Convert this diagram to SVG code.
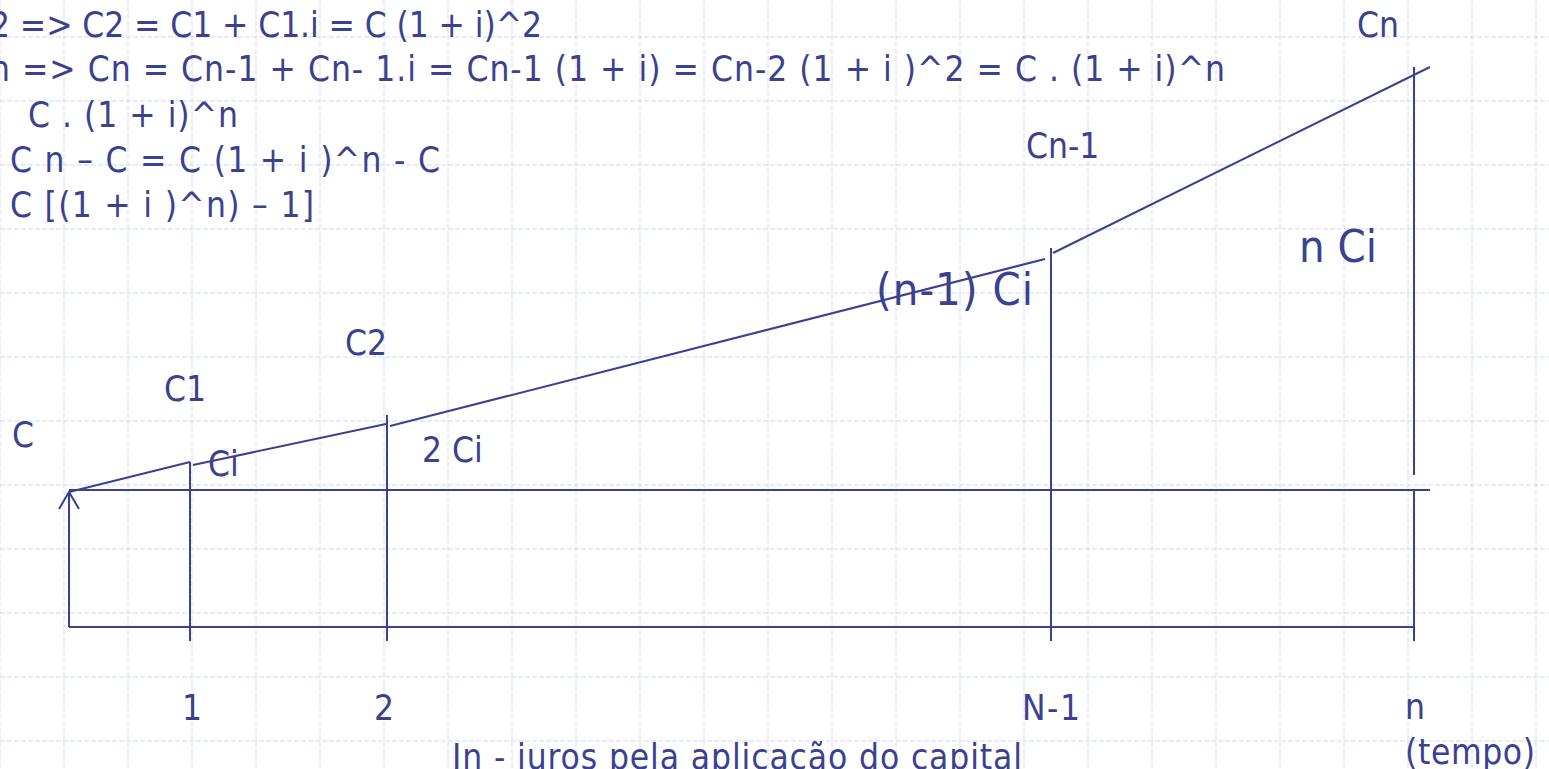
<svg xmlns="http://www.w3.org/2000/svg" width="1549" height="769" viewBox="0 0 1549 769">
<defs>
<style>
.grid line{stroke:#cdd9fa;stroke-width:1;stroke-dasharray:5 2}
.t{font-family:"DejaVu Sans Condensed","DejaVu Sans",sans-serif;font-stretch:condensed;font-size:35px;fill:#3a4290}
.big{font-size:45px}
.ln{stroke:#3a4290;stroke-width:2;fill:none}
</style>
</defs>
<rect width="1549" height="769" fill="#ffffff"/>
<g class="grid">
<line x1="0" y1="0" x2="0" y2="769"/><line x1="64" y1="0" x2="64" y2="769"/><line x1="128" y1="0" x2="128" y2="769"/><line x1="192" y1="0" x2="192" y2="769"/><line x1="256" y1="0" x2="256" y2="769"/><line x1="320" y1="0" x2="320" y2="769"/><line x1="384" y1="0" x2="384" y2="769"/><line x1="448" y1="0" x2="448" y2="769"/><line x1="512" y1="0" x2="512" y2="769"/><line x1="576" y1="0" x2="576" y2="769"/><line x1="640" y1="0" x2="640" y2="769"/><line x1="704" y1="0" x2="704" y2="769"/><line x1="768" y1="0" x2="768" y2="769"/><line x1="832" y1="0" x2="832" y2="769"/><line x1="896" y1="0" x2="896" y2="769"/><line x1="960" y1="0" x2="960" y2="769"/><line x1="1024" y1="0" x2="1024" y2="769"/><line x1="1088" y1="0" x2="1088" y2="769"/><line x1="1152" y1="0" x2="1152" y2="769"/><line x1="1216" y1="0" x2="1216" y2="769"/><line x1="1280" y1="0" x2="1280" y2="769"/><line x1="1344" y1="0" x2="1344" y2="769"/><line x1="1408" y1="0" x2="1408" y2="769"/><line x1="1472" y1="0" x2="1472" y2="769"/><line x1="1536" y1="0" x2="1536" y2="769"/>
<line x1="0" y1="37" x2="1549" y2="37"/><line x1="0" y1="101" x2="1549" y2="101"/><line x1="0" y1="165" x2="1549" y2="165"/><line x1="0" y1="229" x2="1549" y2="229"/><line x1="0" y1="293" x2="1549" y2="293"/><line x1="0" y1="357" x2="1549" y2="357"/><line x1="0" y1="421" x2="1549" y2="421"/><line x1="0" y1="485" x2="1549" y2="485"/><line x1="0" y1="549" x2="1549" y2="549"/><line x1="0" y1="613" x2="1549" y2="613"/><line x1="0" y1="677" x2="1549" y2="677"/><line x1="0" y1="741" x2="1549" y2="741"/>
</g>
<g id="formulas">
<text class="t" x="-10" y="37" textLength="552">2 =&gt; C2 = C1 + C1.i = C (1 + i)^2</text>
<text class="t" x="-10" y="81" textLength="1235">n =&gt; Cn = Cn-1 + Cn- 1.i = Cn-1 (1 + i) = Cn-2 (1 + i )^2 = C . (1 + i)^n</text>
<text class="t" x="28" y="127" textLength="210">C . (1 + i)^n</text>
<text class="t" x="10" y="172" textLength="430">C n – C = C (1 + i )^n - C</text>
<text class="t" x="10" y="217" textLength="304">C [(1 + i )^n) – 1]</text>
</g>
<g id="connectors">
<polyline class="ln" points="69,627 1414,627"/>
<polyline class="ln" points="69,627 69,492"/>
<polyline class="ln" points="59,509 69,492 79,509"/>
<polyline class="ln" points="69,490 1430,490"/>
<polyline class="ln" points="190,462 190,641"/>
<polyline class="ln" points="387,415 387,641"/>
<polyline class="ln" points="1051,248 1051,641"/>
<polyline class="ln" points="1414,67 1414,475"/>
<polyline class="ln" points="1414,490 1414,641"/>
<polyline class="ln" points="69,492 190,462"/>
<polyline class="ln" points="193,465 386,424"/>
<polyline class="ln" points="390,426 1045,259"/>
<polyline class="ln" points="1053,253 1430,67"/>
</g>
<g id="labels">
<text class="t" x="12" y="447">C</text>
<text class="t" x="164" y="401">C1</text>
<text class="t" x="345" y="355">C2</text>
<text class="t" x="208" y="476">Ci</text>
<text class="t" x="422" y="462">2 Ci</text>
<text class="t" x="1026" y="158">Cn-1</text>
<text class="t" x="1357" y="37">Cn</text>
<text class="t big" x="876" y="305" textLength="157">(n-1) Ci</text>
<text class="t big" x="1299" y="262" textLength="78">n Ci</text>
<text class="t" x="182" y="720">1</text>
<text class="t" x="374" y="720">2</text>
<text class="t" x="1022" y="720" textLength="58">N-1</text>
<text class="t" x="1405" y="719">n</text>
<text class="t" x="1405" y="764" textLength="130">(tempo)</text>
<text class="t" x="452" y="769" textLength="570">Jn - juros pela aplicação do capital</text>
</g>
</svg>
